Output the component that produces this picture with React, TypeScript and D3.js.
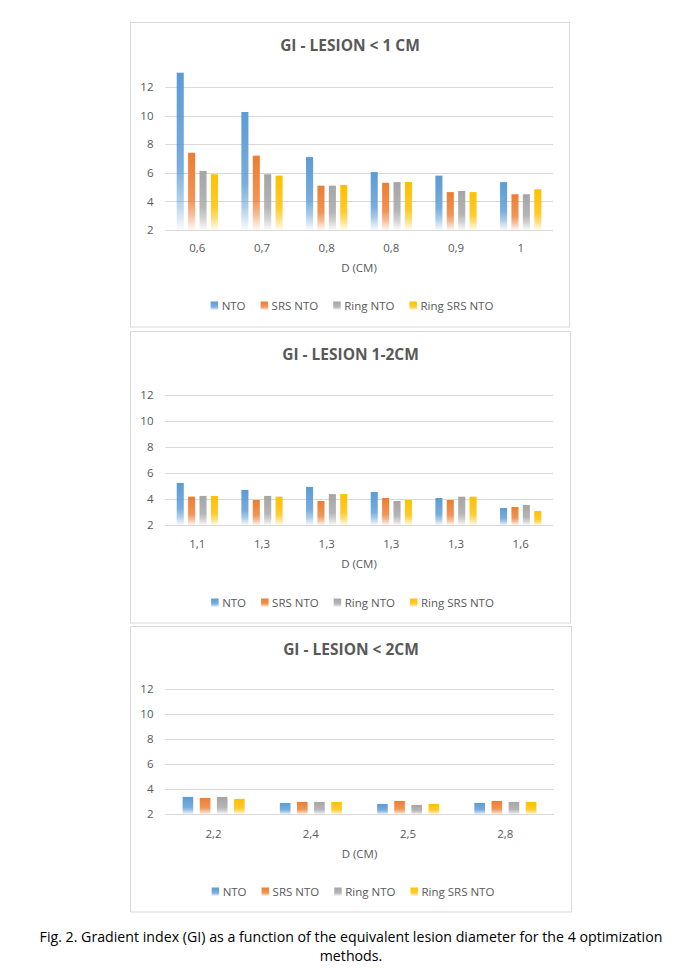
import { useEffect, useRef } from "react";
import * as d3 from "d3";

// GI per lesion size, 4 optimisation methods, three stacked Excel-style panels
const seriesNames = ["NTO", "SRS NTO", "Ring NTO", "Ring SRS NTO"];
const seriesColors = ["#5B9BD5", "#ED7D31", "#A5A5A5", "#FFC000"];
const yTicks = [2, 4, 6, 8, 10, 12];

const smallTitle = "GI - LESION < 1 CM";
const smallCats = ["0,6", "0,7", "0,8", "0,8", "0,9", "1"];
const smallNto = [13.0, 10.25, 7.1, 6.05, 5.8, 5.35];
const smallSrs = [7.4, 7.2, 5.1, 5.3, 4.65, 4.5];
const smallRing = [6.13, 5.9, 5.1, 5.35, 4.73, 4.5];
const smallRingSrs = [5.9, 5.8, 5.15, 5.35, 4.65, 4.85];

const midTitle = "GI - LESION 1-2CM";
const midCats = ["1,1", "1,3", "1,3", "1,3", "1,3", "1,6"];
const midNto = [5.26, 4.72, 4.95, 4.56, 4.1, 3.33];
const midSrs = [4.2, 3.95, 3.87, 4.1, 3.95, 3.41];
const midRing = [4.26, 4.26, 4.4, 3.87, 4.2, 3.56];
const midRingSrs = [4.26, 4.2, 4.4, 3.95, 4.2, 3.1];

const largeTitle = "GI - LESION < 2CM";
const largeCats = ["2,2", "2,4", "2,5", "2,8"];
const largeNto = [3.39, 2.91, 2.83, 2.91];
const largeSrs = [3.31, 2.99, 3.07, 3.07];
const largeRing = [3.39, 2.99, 2.75, 2.99];
const largeRingSrs = [3.23, 2.99, 2.83, 2.99];

const xTitle = "D (CM)";
const captionLines = [
    "Fig. 2. Gradient index (GI) as a function of the equivalent lesion diameter for the 4 optimization",
    "methods.",
];

const FONT = "'Open Sans', 'Noto Sans', sans-serif";
const TEXT = "#595959";
const GRID = "#D9D9D9";
const LABEL_SIZE = "11.5px";

type Layout = {
    box: [number, number, number, number];
    plot: { left: number; right: number; top: number; bottom: number };
    titleY: number;
    xLabelY: number;
    axisTitleY: number;
    legendY: number;
};

const panels: { title: string; cats: string[]; values: number[][]; layout: Layout }[] = [
    {
        title: smallTitle,
        cats: smallCats,
        values: [smallNto, smallSrs, smallRing, smallRingSrs],
        layout: { box: [130.5, 22.5, 439, 304.5], plot: { left: 165, right: 553, top: 87, bottom: 230 }, titleY: 50.5, xLabelY: 251.5, axisTitleY: 271.5, legendY: 309.5 },
    },
    {
        title: midTitle,
        cats: midCats,
        values: [midNto, midSrs, midRing, midRingSrs],
        layout: { box: [130.5, 331.5, 440, 291.5], plot: { left: 165, right: 553, top: 395.3, bottom: 525.3 }, titleY: 359.8, xLabelY: 547.5, axisTitleY: 567.5, legendY: 606.5 },
    },
    {
        title: largeTitle,
        cats: largeCats,
        values: [largeNto, largeSrs, largeRing, largeRingSrs],
        layout: { box: [130.5, 626.5, 441, 285.5], plot: { left: 165, right: 554, top: 689.3, bottom: 814.3 }, titleY: 654.8, xLabelY: 837.5, axisTitleY: 858, legendY: 895.5 },
    },
];

export default function App() {
    const svgRef = useRef<SVGSVGElement>(null);

    useEffect(() => {
        if (!svgRef.current) return;
        const svg = d3.select(svgRef.current);
        svg.selectAll("*").remove();

        // faded bar fills, top solid -> bottom white
        const defs = svg.append("defs");
        seriesColors.forEach((c, i) => {
            const grad = defs.append("linearGradient").attr("id", `fade${i}`)
                .attr("x1", 0).attr("y1", 0).attr("x2", 0).attr("y2", 1);
            [[0, 1], [0.6, 0.82], [0.8, 0.5], [1, 0.04]].forEach(([o, a]) => {
                grad.append("stop").attr("offset", o).attr("stop-color", c).attr("stop-opacity", a);
            });
        });

        svg.append("rect").attr("width", 679).attr("height", 968).attr("fill", "#fff");

        panels.forEach(panel => {
            const { box, plot } = panel.layout;
            const L = panel.layout;
            const g = svg.append("g");

            g.append("rect").attr("x", box[0]).attr("y", box[1]).attr("width", box[2]).attr("height", box[3])
                .attr("fill", "#fff").attr("stroke", GRID).attr("stroke-width", 1);

            const x0 = d3.scaleBand<number>().domain(d3.range(panel.cats.length)).range([plot.left, plot.right]);
            const groupW = x0.bandwidth() * 0.638;
            const x1 = d3.scaleBand<number>().domain(d3.range(seriesNames.length)).range([0, groupW]).paddingInner(0.38);
            const y = d3.scaleLinear().domain([2, 12]).range([plot.bottom, plot.top]);

            // gridlines + y labels
            yTicks.forEach(t => {
                g.append("line").attr("x1", plot.left).attr("x2", plot.right)
                    .attr("y1", Math.round(y(t)) + 0.5).attr("y2", Math.round(y(t)) + 0.5)
                    .attr("stroke", GRID).attr("stroke-width", 1);
                g.append("text").attr("x", 153.5).attr("y", y(t)).attr("dy", "0.36em")
                    .attr("text-anchor", "end").attr("fill", TEXT)
                    .attr("font-family", FONT).attr("font-size", LABEL_SIZE).text(t);
            });

            // bars
            panel.values.forEach((vals, si) => {
                vals.forEach((v, ci) => {
                    const bx = x0(ci)! + (x0.bandwidth() - groupW) / 2 + x1(si)!;
                    g.append("rect").attr("x", bx).attr("y", y(v))
                        .attr("width", x1.bandwidth()).attr("height", y(2) - y(v))
                        .attr("fill", `url(#fade${si})`);
                });
            });

            // category labels
            panel.cats.forEach((c, ci) => {
                g.append("text").attr("x", x0(ci)! + x0.bandwidth() / 2).attr("y", L.xLabelY)
                    .attr("text-anchor", "middle").attr("fill", TEXT)
                    .attr("font-family", FONT).attr("font-size", LABEL_SIZE).text(c);
            });

            g.append("text").attr("x", (plot.left + plot.right) / 2).attr("y", L.axisTitleY)
                .attr("text-anchor", "middle").attr("fill", TEXT)
                .attr("font-family", FONT).attr("font-size", LABEL_SIZE).text(xTitle);

            g.append("text").attr("x", box[0] + box[2] / 2).attr("y", L.titleY)
                .attr("text-anchor", "middle").attr("fill", TEXT).attr("font-weight", 700)
                .attr("font-family", FONT).attr("font-size", "15.5px").text(panel.title);

            // legend, laid out from measured text widths
            const lg = g.append("g");
            let cursor = 0;
            seriesNames.forEach((name, si) => {
                lg.append("rect").attr("x", cursor).attr("y", L.legendY - 8)
                    .attr("width", 7.5).attr("height", 8.5).attr("fill", `url(#fade${si})`);
                const t = lg.append("text").attr("x", cursor + 11).attr("y", L.legendY)
                    .attr("fill", TEXT).attr("font-family", FONT).attr("font-size", LABEL_SIZE).text(name);
                const w = (t.node() as SVGTextElement).getComputedTextLength();
                cursor += 11 + w + (si < seriesNames.length - 1 ? 15 : 0);
            });
            const cx = box[0] + box[2] / 2 + 2;
            lg.attr("transform", `translate(${cx - cursor / 2},0)`);
        });

        // caption
        captionLines.forEach((line, i) => {
            svg.append("text").attr("x", 351).attr("y", 941.7 + i * 19.3)
                .attr("text-anchor", "middle").attr("fill", "#000")
                .attr("font-family", "'Liberation Sans Narrow', 'Open Sans', sans-serif")
                .attr("font-size", "14.2px").text(line);
        });
    }, []);

    return (
        <>
            <style>{`body{margin:0}`}</style>
            <svg ref={svgRef} width={679} height={968} style={{ display: "block" }} />
        </>
    );
}
